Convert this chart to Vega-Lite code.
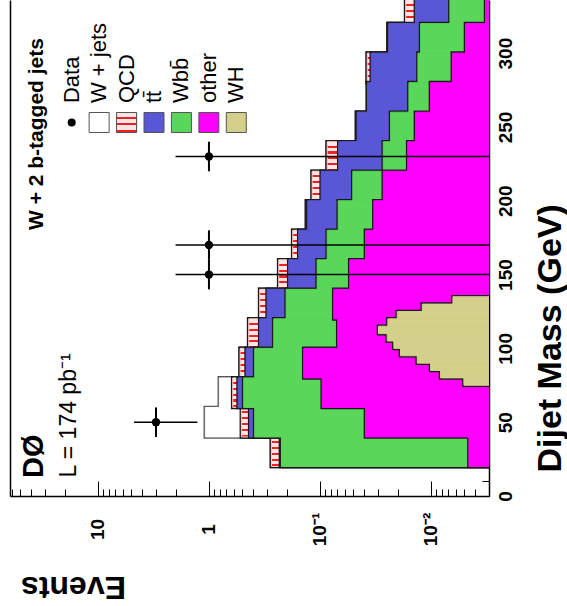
{
  "$schema": "https://vega.github.io/schema/vega-lite/v6.json",
  "width": 479,
  "height": 496,
  "autosize": "none",
  "padding": {"left": 10, "top": 0, "right": 78, "bottom": 110},
  "background": "white",
  "config": {
    "view": {"stroke": null},
    "font": "Liberation Sans",
    "axis": {"grid": false, "labelFlush": false, "labelOverlap": false, "tickColor": "black", "domainColor": "black", "labelColor": "black", "titleColor": "black", "labelFont": "Liberation Sans", "titleFont": "Liberation Sans"}
  },
  "datasets": {
    "stack": [
      {"lo": 20, "hi": 40, "W": 0.2737, "Q": 0.2737, "B": 0.2271, "G": 0.2224, "M": 0.00455},
      {"lo": 40, "hi": 60, "W": 1.078, "Q": 0.5103, "B": 0.4296, "G": 0.3872, "M": 0.0389},
      {"lo": 60, "hi": 80, "W": 0.806, "Q": 0.611, "B": 0.5465, "G": 0.4865, "M": 0.0955},
      {"lo": 80, "hi": 100, "W": 0.524, "Q": 0.524, "B": 0.4628, "G": 0.3872, "M": 0.14},
      {"lo": 100, "hi": 120, "W": 0.4385, "Q": 0.4385, "B": 0.349, "G": 0.2609, "M": 0.0691},
      {"lo": 120, "hi": 140, "W": 0.349, "Q": 0.349, "B": 0.2993, "G": 0.2017, "M": 0.0751},
      {"lo": 140, "hi": 160, "W": 0.2352, "Q": 0.2352, "B": 0.1911, "G": 0.106, "M": 0.0539},
      {"lo": 160, "hi": 180, "W": 0.1759, "Q": 0.1759, "B": 0.1553, "G": 0.0861, "M": 0.0389},
      {"lo": 180, "hi": 200, "W": 0.1323, "Q": 0.1323, "B": 0.1288, "G": 0.0685, "M": 0.0327},
      {"lo": 200, "hi": 220, "W": 0.1176, "Q": 0.1176, "B": 0.0975, "G": 0.0506, "M": 0.0269},
      {"lo": 220, "hi": 240, "W": 0.0861, "Q": 0.0861, "B": 0.0677, "G": 0.0269, "M": 0.0162},
      {"lo": 240, "hi": 260, "W": 0.0469, "Q": 0.0469, "B": 0.0462, "G": 0.0231, "M": 0.0138},
      {"lo": 260, "hi": 280, "W": 0.0373, "Q": 0.0373, "B": 0.0373, "G": 0.0158, "M": 0.0101},
      {"lo": 280, "hi": 300, "W": 0.0375, "Q": 0.0375, "B": 0.0345, "G": 0.0131, "M": 0.00642},
      {"lo": 300, "hi": 320, "W": 0.0244, "Q": 0.0244, "B": 0.024, "G": 0.0124, "M": 0.00488},
      {"lo": 320, "hi": 340, "W": 0.0169, "Q": 0.0169, "B": 0.0138, "G": 0.00675, "M": 0.00322}
    ],
    "wh": [
      {"lo": 75, "hi": 80, "v": 0.00505},
      {"lo": 80, "hi": 85, "v": 0.00819},
      {"lo": 85, "hi": 90, "v": 0.01008},
      {"lo": 90, "hi": 95, "v": 0.01329},
      {"lo": 95, "hi": 100, "v": 0.01879},
      {"lo": 100, "hi": 105, "v": 0.02161},
      {"lo": 105, "hi": 110, "v": 0.02477},
      {"lo": 110, "hi": 115, "v": 0.02969},
      {"lo": 115, "hi": 120, "v": 0.02446},
      {"lo": 120, "hi": 125, "v": 0.02013},
      {"lo": 125, "hi": 130, "v": 0.01198},
      {"lo": 130, "hi": 135, "v": 0.00634}
    ],
    "points": [
      {"m": 50, "mlo": 40, "mhi": 60, "v": 3, "elo": 1.27, "ehi": 4.73},
      {"m": 150, "mlo": 140, "mhi": 160, "v": 1, "elo": 0.001, "ehi": 2},
      {"m": 170, "mlo": 160, "mhi": 180, "v": 1, "elo": 0.001, "ehi": 2},
      {"m": 230, "mlo": 220, "mhi": 240, "v": 1, "elo": 0.001, "ehi": 2}
    ],
    "legend": [
      {"entry": "Data"},
      {"entry": "W + jets"},
      {"entry": "QCD"},
      {"entry": "tt\u0304"},
      {"entry": "Wbb\u0304"},
      {"entry": "other"},
      {"entry": "WH"}
    ]
  },
  "resolve": {"scale": {"x": "independent"}, "axis": {"x": "independent", "y": "independent"}},
  "layer": [
    {
      "data": {"name": "stack"},
      "mark": {"type": "rect", "fill": "white", "stroke": "#555555", "strokeWidth": 3.6, "clip": true},
      "encoding": {
        "y": {"field": "lo", "type": "quantitative", "scale": {"domain": [0, 336], "nice": false, "zero": false},
          "axis": {"orient": "right", "values": [0, 50, 100, 150, 200, 250, 300], "labelAngle": 270, "labelAlign": "center", "labelBaseline": "middle", "labelPadding": 29, "tickSize": -13, "tickWidth": 1, "domain": true, "domainWidth": 1.5, "labelFontSize": 19, "labelFontWeight": "bold",
            "title": "Dijet Mass (GeV)", "titleAngle": 270, "titleFontSize": 34, "titleFontWeight": "bold", "titleX": 61, "titleY": 472, "titleAlign": "left", "titleBaseline": "middle"}},
        "y2": {"field": "hi"},
        "x": {"field": "W", "type": "quantitative", "scale": {"type": "log", "domain": [0.003, 62], "nice": false, "reverse": true},
          "axis": {"orient": "bottom", "values": [0.01, 0.1, 1, 10], "labelExpr": "datum.value >= 5 ? '10' : datum.value >= 0.5 ? '1' : datum.value >= 0.05 ? '10\u207b\u00b9' : '10\u207b\u00b2'", "labelAngle": 270, "labelAlign": "center", "labelBaseline": "middle", "labelPadding": 48, "tickSize": -15, "tickWidth": 1, "domain": true, "domainWidth": 1.5, "labelFontSize": 19, "labelFontWeight": "bold",
            "title": "Events", "titleAngle": 180, "titleFontSize": 32, "titleFontWeight": "bold", "titleX": 115.5, "titleY": 90, "titleAlign": "left", "titleBaseline": "middle"}},
        "x2": {"datum": 0.003}
      }
    },
    {
      "data": {"name": "stack"},
      "mark": {"type": "rect", "fill": "white", "stroke": "white", "strokeWidth": 1, "clip": true},
      "encoding": {
        "y": {"field": "lo", "type": "quantitative", "scale": {"domain": [0, 336], "nice": false, "zero": false}, "axis": null},
        "y2": {"field": "hi"},
        "x": {"field": "W", "type": "quantitative", "scale": {"type": "log", "domain": [0.003, 62], "nice": false, "reverse": true}, "axis": null},
        "x2": {"datum": 0.003}
      }
    },
    {
      "data": {"name": "stack"},
      "mark": {"type": "rect", "fill": "#f39090", "stroke": "#1a1a1a", "strokeWidth": 3.6, "clip": true},
      "encoding": {
        "y": {"field": "lo", "type": "quantitative", "scale": {"domain": [0, 336], "nice": false, "zero": false},
          "axis": {"orient": "right", "values": [10, 20, 30, 40, 60, 70, 80, 90, 110, 120, 130, 140, 160, 170, 180, 190, 210, 220, 230, 240, 260, 270, 280, 290, 310, 320, 330], "labels": false, "tickSize": -7, "tickWidth": 1, "domain": false, "title": null}},
        "y2": {"field": "hi"},
        "x": {"field": "Q", "type": "quantitative", "scale": {"type": "log", "domain": [0.003, 62], "nice": false, "reverse": true},
          "axis": {"orient": "bottom", "values": [0.003, 0.004, 0.005, 0.006, 0.007, 0.008, 0.009, 0.02, 0.03, 0.04, 0.05, 0.06, 0.07, 0.08, 0.09, 0.2, 0.3, 0.4, 0.5, 0.6, 0.7, 0.8, 0.9, 2, 3, 4, 5, 6, 7, 8, 9, 20, 30, 40, 50, 60], "labels": false, "tickSize": -7, "tickWidth": 1, "domain": false, "title": null}},
        "x2": {"datum": 0.003}
      }
    },
    {
      "data": {"name": "stack"},
      "mark": {"type": "rect", "stroke": "#ffd0d0", "strokeWidth": 1, "clip": true,
        "fill": {"gradient": "linear", "x1": 0, "y1": 0, "x2": 0, "y2": 1, "stops": [
          {"offset": 0, "color": "#ffe6e6"}, {"offset": 0.13, "color": "#ffe6e6"}, {"offset": 0.13, "color": "#ee2222"}, {"offset": 0.2, "color": "#ee2222"},
          {"offset": 0.2, "color": "#ffe6e6"}, {"offset": 0.33, "color": "#ffe6e6"}, {"offset": 0.33, "color": "#ee2222"}, {"offset": 0.4, "color": "#ee2222"},
          {"offset": 0.4, "color": "#ffe6e6"}, {"offset": 0.53, "color": "#ffe6e6"}, {"offset": 0.53, "color": "#ee2222"}, {"offset": 0.6, "color": "#ee2222"},
          {"offset": 0.6, "color": "#ffe6e6"}, {"offset": 0.73, "color": "#ffe6e6"}, {"offset": 0.73, "color": "#ee2222"}, {"offset": 0.8, "color": "#ee2222"},
          {"offset": 0.8, "color": "#ffe6e6"}, {"offset": 0.93, "color": "#ffe6e6"}, {"offset": 0.93, "color": "#ee2222"}, {"offset": 1, "color": "#ee2222"}]}},
      "encoding": {
        "y": {"field": "lo", "type": "quantitative", "scale": {"domain": [0, 336], "nice": false, "zero": false}, "axis": null},
        "y2": {"field": "hi"},
        "x": {"field": "Q", "type": "quantitative", "scale": {"type": "log", "domain": [0.003, 62], "nice": false, "reverse": true}, "axis": null},
        "x2": {"datum": 0.003}
      }
    },
    {
      "data": {"name": "stack"},
      "mark": {"type": "rect", "fill": "#5a57d6", "stroke": "#1a1a1a", "strokeWidth": 3.6, "clip": true},
      "encoding": {
        "y": {"field": "lo", "type": "quantitative", "scale": {"domain": [0, 336], "nice": false, "zero": false}, "axis": null},
        "y2": {"field": "hi"},
        "x": {"field": "B", "type": "quantitative", "scale": {"type": "log", "domain": [0.003, 62], "nice": false, "reverse": true}, "axis": null},
        "x2": {"datum": 0.003}
      }
    },
    {
      "data": {"name": "stack"},
      "mark": {"type": "rect", "fill": "#5a57d6", "stroke": "#5a57d6", "strokeWidth": 1, "clip": true},
      "encoding": {
        "y": {"field": "lo", "type": "quantitative", "scale": {"domain": [0, 336], "nice": false, "zero": false}, "axis": null},
        "y2": {"field": "hi"},
        "x": {"field": "B", "type": "quantitative", "scale": {"type": "log", "domain": [0.003, 62], "nice": false, "reverse": true}, "axis": null},
        "x2": {"datum": 0.003}
      }
    },
    {
      "data": {"name": "stack"},
      "mark": {"type": "rect", "fill": "#5ad65a", "stroke": "#1a1a1a", "strokeWidth": 3.6, "clip": true},
      "encoding": {
        "y": {"field": "lo", "type": "quantitative", "scale": {"domain": [0, 336], "nice": false, "zero": false},
          "axis": {"orient": "left", "labels": false, "ticks": false, "domain": true, "domainWidth": 1.5, "title": null}},
        "y2": {"field": "hi"},
        "x": {"field": "G", "type": "quantitative", "scale": {"type": "log", "domain": [0.003, 62], "nice": false, "reverse": true}, "axis": null},
        "x2": {"datum": 0.003}
      }
    },
    {
      "data": {"name": "stack"},
      "mark": {"type": "rect", "fill": "#5ad65a", "stroke": "#5ad65a", "strokeWidth": 1, "clip": true},
      "encoding": {
        "y": {"field": "lo", "type": "quantitative", "scale": {"domain": [0, 336], "nice": false, "zero": false}, "axis": null},
        "y2": {"field": "hi"},
        "x": {"field": "G", "type": "quantitative", "scale": {"type": "log", "domain": [0.003, 62], "nice": false, "reverse": true}, "axis": null},
        "x2": {"datum": 0.003}
      }
    },
    {
      "data": {"name": "stack"},
      "mark": {"type": "rect", "fill": "#ff00ff", "stroke": "#1a1a1a", "strokeWidth": 3.6, "clip": true},
      "encoding": {
        "y": {"field": "lo", "type": "quantitative", "scale": {"domain": [0, 336], "nice": false, "zero": false}, "axis": null},
        "y2": {"field": "hi"},
        "x": {"field": "M", "type": "quantitative", "scale": {"type": "log", "domain": [0.003, 62], "nice": false, "reverse": true}, "axis": null},
        "x2": {"datum": 0.003}
      }
    },
    {
      "data": {"name": "stack"},
      "mark": {"type": "rect", "fill": "#ff00ff", "stroke": "#ff00ff", "strokeWidth": 1, "clip": true},
      "encoding": {
        "y": {"field": "lo", "type": "quantitative", "scale": {"domain": [0, 336], "nice": false, "zero": false}, "axis": null},
        "y2": {"field": "hi"},
        "x": {"field": "M", "type": "quantitative", "scale": {"type": "log", "domain": [0.003, 62], "nice": false, "reverse": true}, "axis": null},
        "x2": {"datum": 0.003}
      }
    },
    {
      "data": {"name": "wh"},
      "mark": {"type": "rect", "fill": "#d4cf8a", "stroke": "#1a1a1a", "strokeWidth": 3.6, "clip": true},
      "encoding": {
        "y": {"field": "lo", "type": "quantitative", "scale": {"domain": [0, 336], "nice": false, "zero": false}, "axis": null},
        "y2": {"field": "hi"},
        "x": {"field": "v", "type": "quantitative", "scale": {"type": "log", "domain": [0.003, 62], "nice": false, "reverse": true}, "axis": null},
        "x2": {"datum": 0.003}
      }
    },
    {
      "data": {"name": "wh"},
      "mark": {"type": "rect", "fill": "#d4cf8a", "stroke": "#d4cf8a", "strokeWidth": 1, "clip": true},
      "encoding": {
        "y": {"field": "lo", "type": "quantitative", "scale": {"domain": [0, 336], "nice": false, "zero": false}, "axis": null},
        "y2": {"field": "hi"},
        "x": {"field": "v", "type": "quantitative", "scale": {"type": "log", "domain": [0.003, 62], "nice": false, "reverse": true}, "axis": null},
        "x2": {"datum": 0.003}
      }
    },
    {
      "data": {"name": "points"},
      "mark": {"type": "rule", "color": "black", "strokeWidth": 1.5, "clip": true},
      "encoding": {
        "y": {"field": "m", "type": "quantitative", "scale": {"domain": [0, 336], "nice": false, "zero": false}, "axis": null},
        "x": {"field": "elo", "type": "quantitative", "scale": {"type": "log", "domain": [0.003, 62], "nice": false, "reverse": true}, "axis": null},
        "x2": {"field": "ehi"}
      }
    },
    {
      "data": {"name": "points"},
      "mark": {"type": "rule", "color": "black", "strokeWidth": 2, "clip": true},
      "encoding": {
        "y": {"field": "mlo", "type": "quantitative", "scale": {"domain": [0, 336], "nice": false, "zero": false}, "axis": null},
        "y2": {"field": "mhi"},
        "x": {"field": "v", "type": "quantitative", "scale": {"type": "log", "domain": [0.003, 62], "nice": false, "reverse": true}, "axis": null}
      }
    },
    {
      "data": {"name": "points"},
      "mark": {"type": "circle", "color": "black", "opacity": 1, "size": 70, "clip": true},
      "encoding": {
        "y": {"field": "m", "type": "quantitative", "scale": {"domain": [0, 336], "nice": false, "zero": false}, "axis": null},
        "x": {"field": "v", "type": "quantitative", "scale": {"type": "log", "domain": [0.003, 62], "nice": false, "reverse": true}, "axis": null}
      }
    },
    {
      "data": {"name": "legend"},
      "mark": {"type": "text", "angle": 270, "align": "left", "baseline": "middle", "fontSize": 22, "font": "Liberation Sans", "color": "black"},
      "encoding": {
        "x": {"field": "entry", "type": "nominal", "scale": {"type": "point", "domain": ["Data", "W + jets", "QCD", "tt\u0304", "Wbb\u0304", "other", "WH"], "range": [61.7, 226.3], "padding": 0}, "axis": null},
        "y": {"datum": 266.2, "type": "quantitative", "axis": null},
        "text": {"field": "entry"}
      }
    },
    {
      "data": {"name": "legend"},
      "transform": [{"filter": "datum.entry !== 'Data'"}],
      "mark": {"type": "square", "size": 400, "filled": true, "stroke": "#555555", "strokeWidth": 1, "opacity": 1},
      "encoding": {
        "x": {"field": "entry", "type": "nominal", "scale": {"type": "point", "domain": ["Data", "W + jets", "QCD", "tt\u0304", "Wbb\u0304", "other", "WH"], "range": [61.7, 226.3], "padding": 0}, "axis": null},
        "y": {"datum": 253.0, "type": "quantitative", "axis": null},
        "fill": {"field": "entry", "type": "nominal", "scale": {"domain": ["W + jets", "QCD", "tt\u0304", "Wbb\u0304", "other", "WH"], "range": ["#ffffff", "#f39090", "#5a57d6", "#5ad65a", "#ff00ff", "#d4cf8a"]}, "legend": null}
      }
    },
    {
      "data": {"name": "legend"},
      "transform": [{"filter": "datum.entry === 'QCD'"}],
      "mark": {"type": "square", "size": 400, "stroke": "#555555", "strokeWidth": 1, "opacity": 1,
        "fill": {"gradient": "linear", "x1": 0, "y1": 0, "x2": 0, "y2": 1, "stops": [
          {"offset": 0, "color": "#ffe6e6"}, {"offset": 0.2, "color": "#ffe6e6"}, {"offset": 0.2, "color": "#ee2222"}, {"offset": 0.3, "color": "#ee2222"},
          {"offset": 0.3, "color": "#ffe6e6"}, {"offset": 0.53, "color": "#ffe6e6"}, {"offset": 0.53, "color": "#ee2222"}, {"offset": 0.63, "color": "#ee2222"},
          {"offset": 0.63, "color": "#ffe6e6"}, {"offset": 0.86, "color": "#ffe6e6"}, {"offset": 0.86, "color": "#ee2222"}, {"offset": 0.96, "color": "#ee2222"},
          {"offset": 0.96, "color": "#ffe6e6"}, {"offset": 1, "color": "#ffe6e6"}]}},
      "encoding": {
        "x": {"field": "entry", "type": "nominal", "scale": {"type": "point", "domain": ["Data", "W + jets", "QCD", "tt\u0304", "Wbb\u0304", "other", "WH"], "range": [61.7, 226.3], "padding": 0}, "axis": null},
        "y": {"datum": 253.0, "type": "quantitative", "axis": null}
      }
    },
    {
      "data": {"name": "legend"},
      "transform": [{"filter": "datum.entry === 'Data'"}],
      "mark": {"type": "circle", "size": 64, "color": "black", "opacity": 1},
      "encoding": {
        "x": {"field": "entry", "type": "nominal", "scale": {"type": "point", "domain": ["Data", "W + jets", "QCD", "tt\u0304", "Wbb\u0304", "other", "WH"], "range": [61.7, 226.3], "padding": 0}, "axis": null},
        "y": {"datum": 253.0, "type": "quantitative", "axis": null}
      }
    },
    {
      "data": {"values": [{"t": "W + 2 b-tagged jets"}]},
      "mark": {"type": "text", "angle": 270, "align": "left", "baseline": "middle", "fontSize": 21, "fontWeight": "bold", "font": "Liberation Sans", "color": "black"},
      "encoding": {
        "x": {"datum": 35.6, "type": "quantitative", "scale": {"type": "log", "domain": [0.003, 62], "nice": false, "reverse": true}, "axis": null},
        "y": {"datum": 180.2, "type": "quantitative", "axis": null},
        "text": {"field": "t"}
      }
    },
    {
      "data": {"values": [{"t": "D\u00d8"}]},
      "mark": {"type": "text", "angle": 270, "align": "left", "baseline": "middle", "fontSize": 29, "fontWeight": "bold", "font": "Liberation Sans", "color": "black"},
      "encoding": {
        "x": {"datum": 37.7, "type": "quantitative", "scale": {"type": "log", "domain": [0.003, 62], "nice": false, "reverse": true}, "axis": null},
        "y": {"datum": 12.2, "type": "quantitative", "axis": null},
        "text": {"field": "t"}
      }
    },
    {
      "data": {"values": [{"t": "L = 174 pb\u207b\u00b9"}]},
      "mark": {"type": "text", "angle": 270, "align": "left", "baseline": "middle", "fontSize": 23, "font": "Liberation Sans", "color": "black"},
      "encoding": {
        "x": {"datum": 18.2, "type": "quantitative", "scale": {"type": "log", "domain": [0.003, 62], "nice": false, "reverse": true}, "axis": null},
        "y": {"datum": 12.5, "type": "quantitative", "axis": null},
        "text": {"field": "t"}
      }
    }
  ]
}
